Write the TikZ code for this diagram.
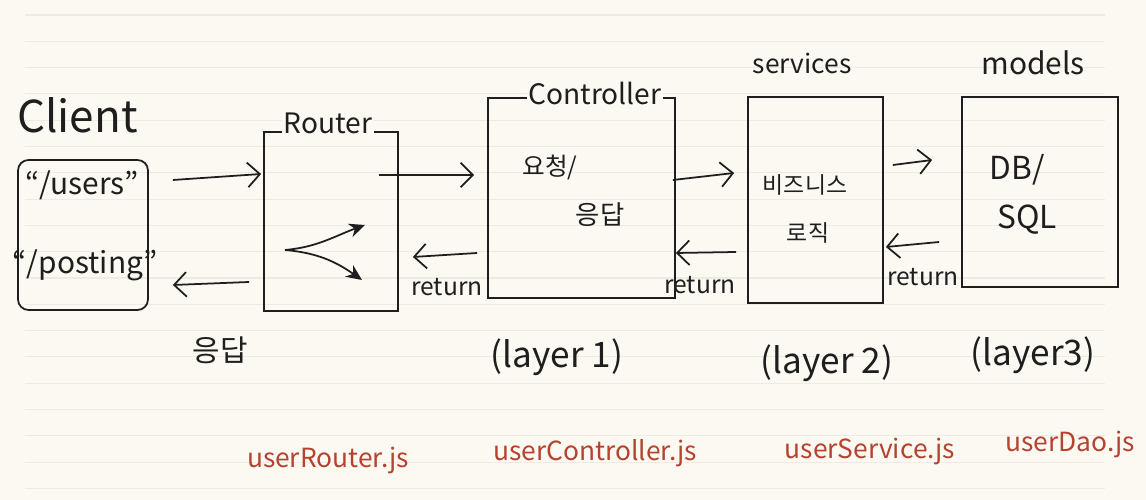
\documentclass[tikz,border=0pt]{standalone}
\usepackage{fontspec}
\setmainfont{Noto Sans CJK KR}
\usepackage{tikz}
\usetikzlibrary{positioning,arrows.meta}
\usepackage{xcolor}
\definecolor{paper}{HTML}{FCF9F3}
\definecolor{rule}{HTML}{EEEBE4}
\definecolor{ink}{HTML}{1E1E1E}
\definecolor{pen}{HTML}{B5432F}
\newcommand{\hand}[1]{\fontsize{#1}{#1}\selectfont}

\begin{document}
\begin{tikzpicture}[line width=1pt, ink,
        flow/.style={->, >={Straight Barb[length=7pt,width=14pt]}},
        fork/.style={->, >={Stealth[length=9pt,width=8pt]}},
        tag/.style={fill=paper, inner sep=1pt},
        file/.style={text=pen, font=\hand{15}}]
        % Paper
        \fill[paper] (0,0) rectangle (22.92,10);
        \foreach \k in {0,...,18}
            \draw[rule, line width=0.6pt] (0.5,{9.7-0.526*\k}) -- (22.1,{9.7-0.526*\k});

        % Boxes
        \node[draw, rounded corners=6pt, minimum width=2.6cm, minimum height=3cm] (client) at (1.66,5.3) {};
        \node[draw, minimum width=2.68cm, minimum height=3.58cm] (router) at (6.62,5.57) {};
        \node[draw, minimum width=3.74cm, minimum height=4cm] (controller) at (11.63,6.04) {};
        \node[draw, minimum width=2.7cm, minimum height=4.12cm] (services) at (16.31,6.0) {};
        \node[draw, minimum width=3.12cm, minimum height=3.8cm] (models) at (20.8,6.16) {};

        % Titles
        \node[font=\hand{25}] (clientTitle) at (1.55,7.7) {Client};
        \node[tag, font=\hand{16}] (routerTitle) at (6.56,7.54) {Router};
        \node[tag, font=\hand{16}] (controllerTitle) at (11.9,8.12) {Controller};
        \node[font=\hand{15}] (servicesTitle) at (16.04,8.74) {services};
        \node[font=\hand{17}] (modelsTitle) at (20.66,8.74) {models};

        % Contents
        \node[font=\hand{17}] (users) at (1.64,6.3) {``/users''};
        \node[font=\hand{17}] (posting) at (1.7,4.7) {``/posting''};
        \node[font=\hand{14}] (request) at (11.0,6.66) {요청/};
        \node[font=\hand{15}] (response) at (12.0,5.7) {응답};
        \node[font=\hand{13}] (business) at (16.1,6.3) {비즈니스};
        \node[font=\hand{13}] (logic) at (16.16,5.34) {로직};
        \node[font=\hand{18}] (db) at (20.34,6.6) {DB/};
        \node[font=\hand{18}] (sql) at (20.54,5.6) {SQL};

        % Requests and returns
        \draw[flow] ([xshift=0.48cm,yshift=1.1cm]client.east) -- ([xshift=-0.04cm,yshift=0.95cm]router.west);
        \draw[flow] ([xshift=-0.28cm,yshift=-1.21cm]router.west) -- ([xshift=0.48cm,yshift=-1cm]client.east);
        \draw[flow] ([xshift=-0.4cm,yshift=0.93cm]router.east) -- ([xshift=-0.26cm,yshift=0.46cm]controller.west);
        \draw[flow] ([xshift=-0.2cm,yshift=-1.1cm]controller.west) -- ([xshift=0.28cm,yshift=-0.71cm]router.east);
        \draw[flow] ([xshift=-0.06cm,yshift=0.36cm]controller.east) -- ([xshift=-0.26cm,yshift=0.54cm]services.west);
        \draw[flow] ([xshift=-0.22cm,yshift=-1.04cm]services.west) -- ([yshift=-1.1cm]controller.east);
        \draw[flow] ([xshift=0.18cm,yshift=0.7cm]services.east) -- ([xshift=-0.58cm,yshift=0.64cm]models.west);
        \draw[flow] ([xshift=-0.44cm,yshift=-1cm]models.west) -- ([xshift=0.04cm,yshift=-0.94cm]services.east);

        \node[font=\hand{17}] (answer) at (4.4,3.0) {응답};
        \node[font=\hand{14}] (return1) at (8.94,4.26) {return};
        \node[font=\hand{14}] (return2) at (14.0,4.3) {return};
        \node[font=\hand{14}] (return3) at (18.46,4.46) {return};

        % Routing fork
        \coordinate (fork) at (5.7,5.0);
        \coordinate (upper) at (7.3,5.5);
        \coordinate (lower) at (7.24,4.4);
        \draw[fork] (fork) to[out=5,in=200] (upper);
        \draw[fork] (fork) to[out=-5,in=145] (lower);

        % Layers
        \node[font=\hand{20}] (layer1) at (11.14,2.86) {(layer 1)};
        \node[font=\hand{20}] (layer2) at (16.54,2.74) {(layer 2)};
        \node[font=\hand{20}] (layer3) at (20.66,2.9) {(layer3)};

        % Files
        \node[file] (routerFile) at (6.56,0.8) {userRouter.js};
        \node[file] (controllerFile) at (11.9,0.94) {userController.js};
        \node[file] (serviceFile) at (17.4,0.98) {userService.js};
        \node[file] (daoFile) at (21.4,1.12) {userDao.js};
    \end{tikzpicture}
\end{document}
